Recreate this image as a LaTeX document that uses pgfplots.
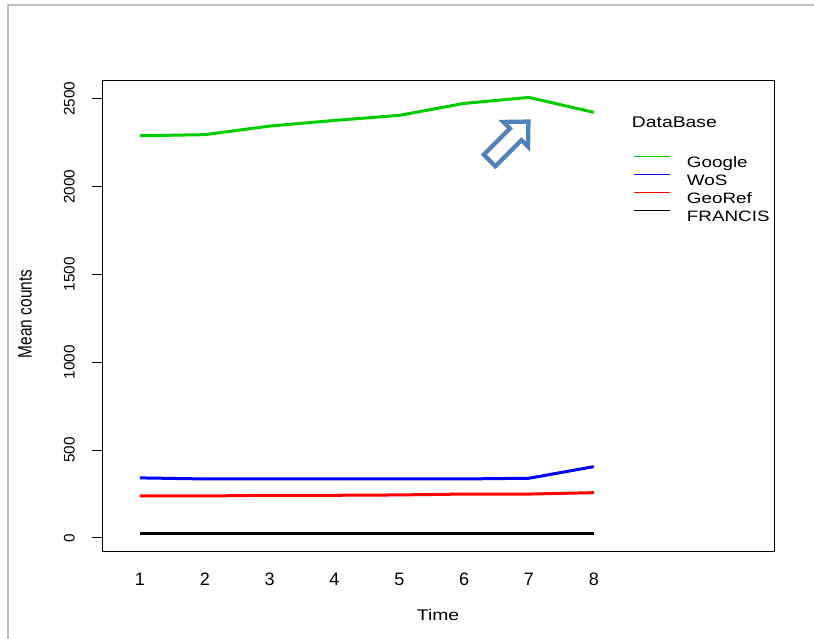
\documentclass[border=0pt]{standalone}
\usepackage{pgfplots}
\pgfplotsset{compat=1.18}
\usepackage{fontspec}
\setmainfont[FakeStretch=1.25]{Liberation Sans}
\newfontfamily\rotfont[FakeStretch=0.8]{Liberation Sans}
\newfontfamily\plainfont{Liberation Sans}
\definecolor{ggreen}{RGB}{0,205,0}
\definecolor{arrowblue}{RGB}{79,129,189}
\definecolor{framegray}{RGB}{192,192,192}

\begin{document}
\begin{tikzpicture}
\path[use as bounding box] (-77.25pt,-66pt) rectangle (533.25pt,413.25pt);
\begin{axis}[
  at={(0pt,0pt)}, anchor=south west,
  scale only axis, width=503.25pt, height=352.7pt,
  xmin=0.43, xmax=10.78, ymin=-74, ymax=2602,
  axis line style={line width=0.75pt},
  xtick={1,...,8}, ytick={0,500,...,2500},
  xtick pos=bottom, ytick pos=left,
  x tick style={draw=none},
  y tick style={line width=0.75pt, black},
  tick align=outside, major tick length=8.25pt,
  /pgf/number format/assume math mode=true,
  /pgf/number format/1000 sep={},
  xticklabel style={font=\plainfont\fontsize{13.5}{16}\selectfont, anchor=north, inner sep=0pt, yshift=-8.3pt},
  yticklabel style={font=\plainfont\fontsize{11.5}{13}\selectfont, xshift=-12.75pt, rotate=90, anchor=south, inner sep=0pt},
  xlabel={Time},
  xlabel style={at={(axis description cs:0.4993,-0.137)}, anchor=center, font=\fontsize{11.6}{14}\selectfont},
  ylabel={Mean counts},
  ylabel style={at={(axis description cs:-0.1162,0.504)}, anchor=center, font=\rotfont\fontsize{14.5}{17}\selectfont},
  legend style={at={(axis description cs:0.7903,0.842)}, anchor=north west, draw=none, fill=none,
    inner sep=0pt, row sep=0pt, column sep=12.5pt, font=\fontsize{11.3}{14}\selectfont,
    nodes={inner sep=0pt, text height=9.5pt, text depth=4pt}},
  legend cell align=left,
  legend image code/.code={\draw[#1, line width=0.75pt] (0pt,5.5pt) -- (26.8pt,5.5pt);},
]
\addplot[ggreen, line width=2.25pt] coordinates {(1,2289) (2,2295) (3,2344) (4,2376) (5,2405) (6,2473) (7,2507) (8,2422)};
\addlegendentry{Google}
\addplot[blue, line width=2.25pt] coordinates {(1,342) (2,336) (3,336) (4,336) (5,336) (6,336) (7,340) (8,406)};
\addlegendentry{WoS}
\addplot[red, line width=2.25pt] coordinates {(1,239) (2,239) (3,243) (4,243) (5,245) (6,250) (7,250) (8,258)};
\addlegendentry{GeoRef}
\addplot[black, line width=2.25pt] coordinates {(1,28) (2,28) (3,28) (4,28) (5,28) (6,28) (7,28) (8,28)};
\addlegendentry{FRANCIS}
\end{axis}
\node[anchor=base west, inner sep=0pt, font=\fontsize{11.6}{14}\selectfont] at (396.5pt,317.8pt) {DataBase};
\draw[arrowblue, line width=3.2pt, line join=miter, shift={(289.9pt,292.9pt)}, rotate=45]
  (0pt,6.2pt) -- (27.75pt,6.2pt) -- (27.75pt,13.1pt) -- (41.25pt,0pt) -- (27.75pt,-13.1pt) -- (27.75pt,-6.2pt) -- (0pt,-6.2pt) -- cycle;
\draw[framegray, line width=1.5pt] (-71.25pt,-66pt) -- (-71.25pt,409.5pt) -- (533.25pt,409.5pt);
\end{tikzpicture}
\end{document}
